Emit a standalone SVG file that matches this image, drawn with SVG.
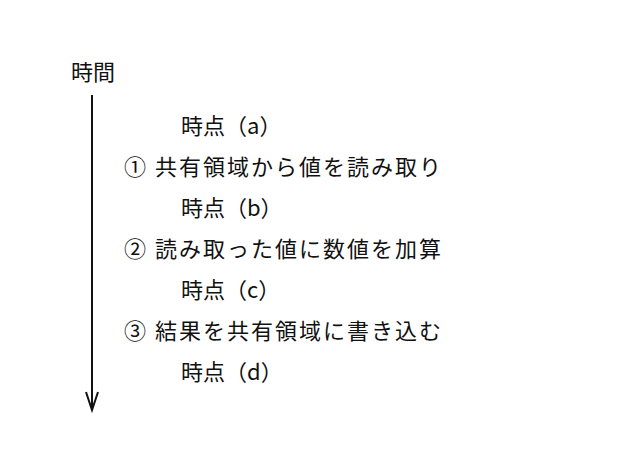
<svg xmlns="http://www.w3.org/2000/svg" width="633" height="471" viewBox="0 0 633 471">
<style>
text{font-family:"Noto Sans CJK JP","Noto Sans",sans-serif;font-size:22px;fill:#111;letter-spacing:2px}
.c{stroke:#111;stroke-width:2;fill:none}
</style>
<rect width="633" height="471" fill="#fff"/>
<g id="axis-label"><text x="71" y="80" style="letter-spacing:0">時間</text></g>
<g id="connectors">
<line class="c" x1="92" y1="95" x2="92" y2="410"/>
<polyline class="c" points="86,392 92,410 98,392"/>
</g>
<g id="ta"><text x="181" y="134" style="letter-spacing:0">時点（a）</text></g>
<g id="s1"><text x="124" y="175">① 共有領域から値を読み取り</text></g>
<g id="tb"><text x="181" y="216" style="letter-spacing:0">時点（b）</text></g>
<g id="s2"><text x="124" y="257">② 読み取った値に数値を加算</text></g>
<g id="tc"><text x="181" y="298" style="letter-spacing:0">時点（c）</text></g>
<g id="s3"><text x="124" y="339">③ 結果を共有領域に書き込む</text></g>
<g id="td"><text x="181" y="380" style="letter-spacing:0">時点（d）</text></g>
</svg>
